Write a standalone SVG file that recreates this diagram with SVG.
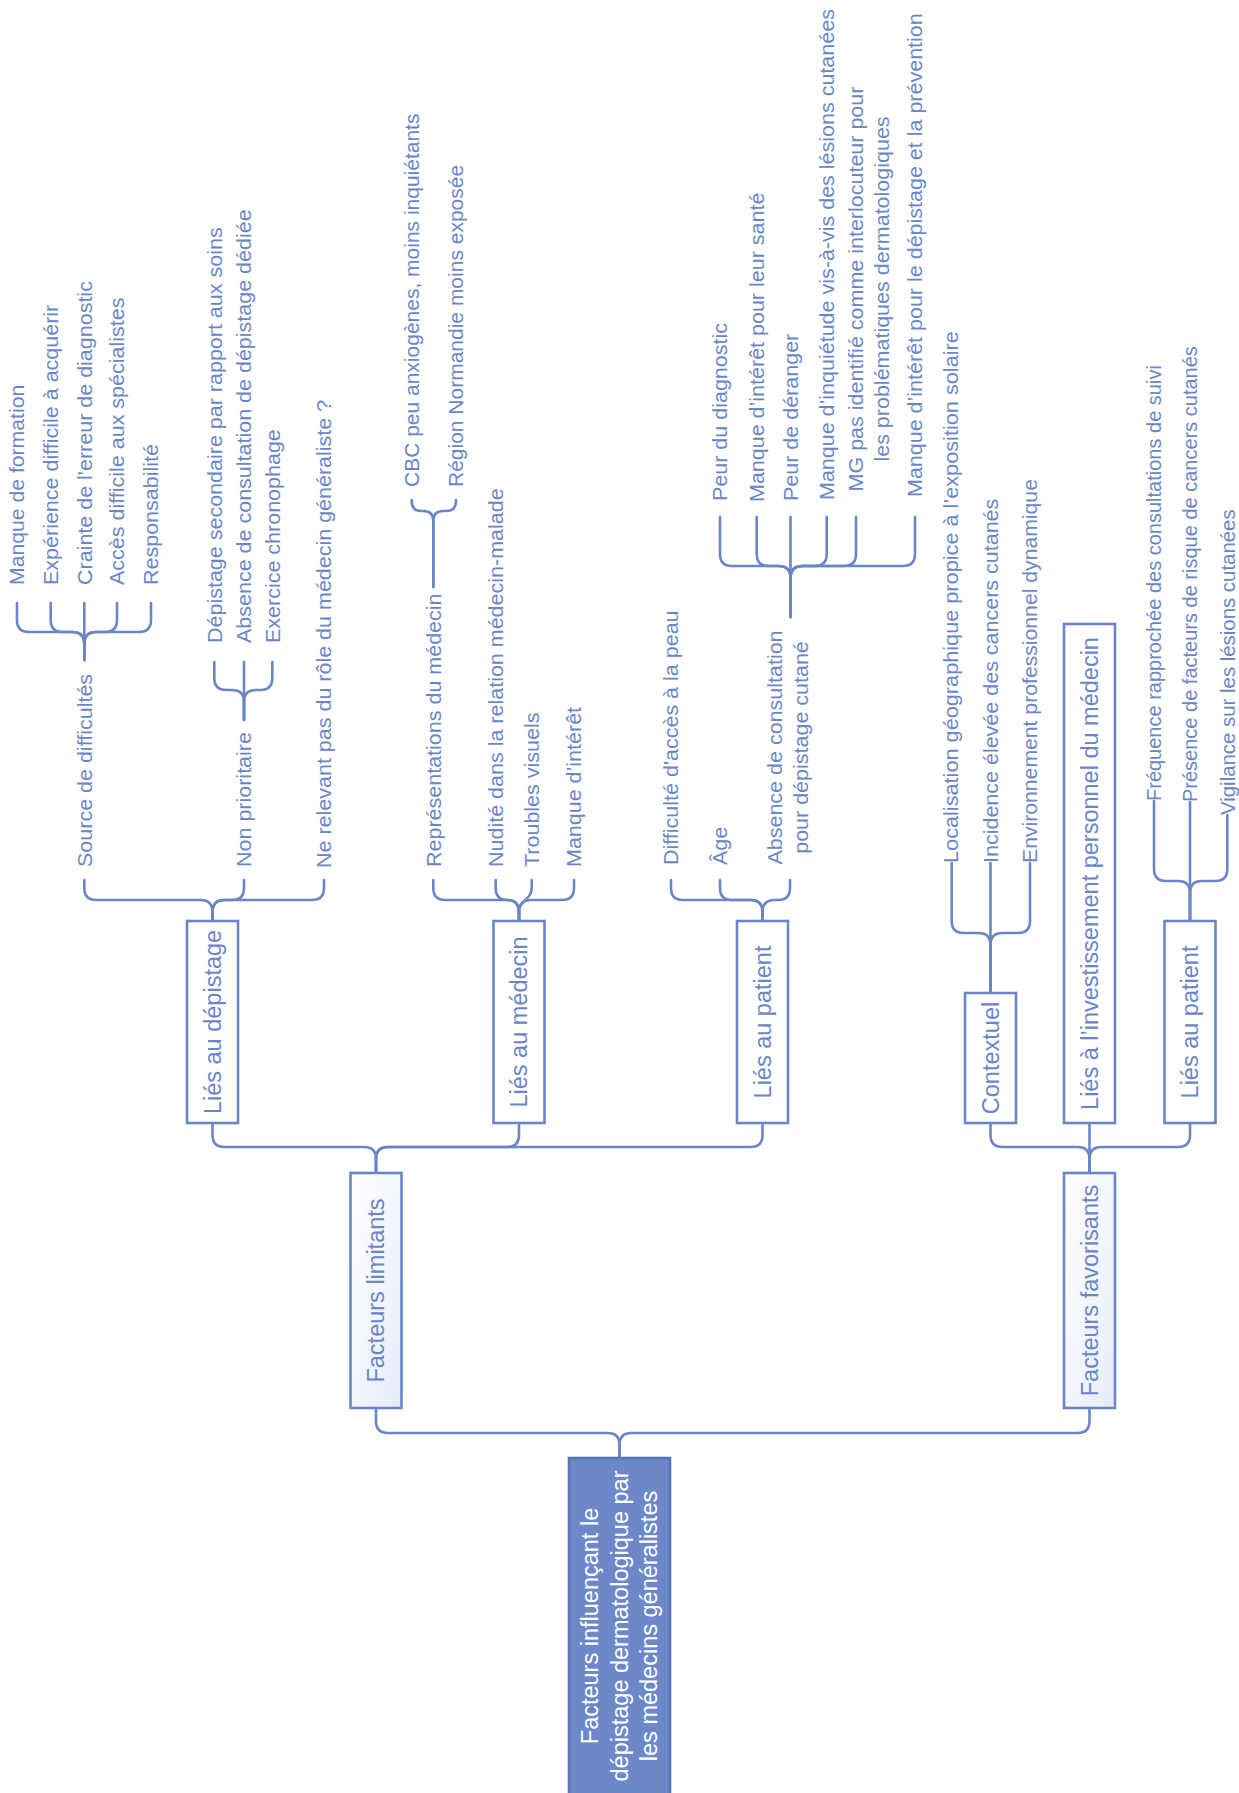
<svg xmlns="http://www.w3.org/2000/svg" width="1239" height="1793" viewBox="0 0 1239 1793">
<defs>
<linearGradient id="lg" x1="0" y1="0" x2="1" y2="1">
<stop offset="0" stop-color="#ffffff"/>
<stop offset="1" stop-color="#e6ecf8"/>
</linearGradient>
<style>
.c{fill:none;stroke:#6b86c6;stroke-width:2.6;stroke-linecap:round}
.b{fill:#ffffff;stroke:#6b86c6;stroke-width:2.6}
.f{fill:url(#lg);stroke:#6b86c6;stroke-width:2.6}
.r{fill:#6c88c8;stroke:#5a74b3;stroke-width:2.6}
.bt{font-family:"Liberation Sans",Arial,sans-serif;font-size:23.5px;fill:#6b86c6;text-anchor:middle}
.rt{font-family:"Liberation Sans",Arial,sans-serif;font-size:23.5px;fill:#ffffff;text-anchor:middle}
.l{font-family:"Liberation Sans",Arial,sans-serif;font-size:20px;fill:#6a86c6}
.m{text-anchor:middle}
</style>
</defs>
<rect width="1239" height="1793" fill="#ffffff"/>
<g id="connectors">
<path class="c" d="M376 1408 V1421 Q376 1433 388 1433 H607.5 Q619.5 1433 619.5 1445 V1458"/>
<path class="c" d="M1089.5 1408 V1421 Q1089.5 1433 1077.5 1433 H631.5 Q619.5 1433 619.5 1445 V1458"/>
<path class="c" d="M212.5 1123 V1135 Q212.5 1147 224.5 1147 H364 Q376 1147 376 1159 V1173"/>
<path class="c" d="M519 1123 V1135 Q519 1147 507 1147 H388 Q376 1147 376 1159 V1173"/>
<path class="c" d="M762.5 1123 V1135 Q762.5 1147 750.5 1147 H388 Q376 1147 376 1159 V1173"/>
<path class="c" d="M990.5 1123 V1135 Q990.5 1147 1002.5 1147 H1077.5 Q1089.5 1147 1089.5 1159 V1173"/>
<path class="c" d="M1089.5 1123 V1173"/>
<path class="c" d="M1190 1123 V1135 Q1190 1147 1178 1147 H1101.5 Q1089.5 1147 1089.5 1159 V1173"/>
<path class="c" d="M84.3 880 V888 Q84.3 900 96.3 900 H200.5 Q212.5 900 212.5 912 V921"/>
<path class="c" d="M244 880 V888 Q244 900 232 900 H224.5 Q212.5 900 212.5 912 V921"/>
<path class="c" d="M324 880 V888 Q324 900 312 900 H224.5 Q212.5 900 212.5 912 V921"/>
<path class="c" d="M433.3 880 V888 Q433.3 900 445.3 900 H507 Q519 900 519 912 V921"/>
<path class="c" d="M495.7 880 V888 Q495.7 900 507.3 900 Q519 900 519 912 V921"/>
<path class="c" d="M531.7 880 V888 C531.7 900 519 900 519 912 V921"/>
<path class="c" d="M574 880 V888 Q574 900 562 900 H531 Q519 900 519 912 V921"/>
<path class="c" d="M671 880 V888 Q671 900 683 900 H750.5 Q762.5 900 762.5 912 V921"/>
<path class="c" d="M720 880 V888 Q720 900 732 900 H750.5 Q762.5 900 762.5 912 V921"/>
<path class="c" d="M790 880 V888 Q790 900 778 900 H774.5 Q762.5 900 762.5 912 V921"/>
<path class="c" d="M951.7 863 V921 Q951.7 933 963.7 933 H978.5 Q990.5 933 990.5 945 V993"/>
<path class="c" d="M990.5 863 V993"/>
<path class="c" d="M1030 863 V921 Q1030 933 1018 933 H1002.5 Q990.5 933 990.5 945 V993"/>
<path class="c" d="M1154 801 V869 Q1154 881 1166 881 H1178 Q1190 881 1190 893 V921"/>
<path class="c" d="M1190 802 V921"/>
<path class="c" d="M1227.3 815 V869 Q1227.3 881 1215.3 881 H1202 Q1190 881 1190 893 V921"/>
<path class="c" d="M17 603 V620 Q17 632 29 632 H72.3 Q84.3 632 84.3 644 V660"/>
<path class="c" d="M50.7 603 V620 Q50.7 632 62.7 632 H72.3 Q84.3 632 84.3 644 V660"/>
<path class="c" d="M84.3 603 V660"/>
<path class="c" d="M117 603 V620 Q117 632 105 632 H96.3 Q84.3 632 84.3 644 V660"/>
<path class="c" d="M151 603 V620 Q151 632 139 632 H96.3 Q84.3 632 84.3 644 V660"/>
<path class="c" d="M214.3 662 V678 Q214.3 690 226.3 690 H232 Q244 690 244 702 V720"/>
<path class="c" d="M244 662 V720"/>
<path class="c" d="M272.3 662 V678 Q272.3 690 260.3 690 H256 Q244 690 244 702 V720"/>
<path class="c" d="M411.7 500 V501 Q411.7 511 421.7 511 H423.3 Q433.3 511 433.3 521 V587"/>
<path class="c" d="M456 500 V501 Q456 511 446 511 H443.3 Q433.3 511 433.3 521 V587"/>
<path class="c" d="M720 517 V554 Q720 566 732 566 H778.5 Q790.5 566 790.5 578 V617"/>
<path class="c" d="M756.7 517 V554 Q756.7 566 768.7 566 H778.5 Q790.5 566 790.5 578 V617"/>
<path class="c" d="M790.5 517 V617"/>
<path class="c" d="M826.7 517 V554 Q826.7 566 814.7 566 H802.5 Q790.5 566 790.5 578 V617"/>
<path class="c" d="M856 517 V554 Q856 566 844 566 H802.5 Q790.5 566 790.5 578 V617"/>
<path class="c" d="M915 517 V554 Q915 566 903 566 H802.5 Q790.5 566 790.5 578 V617"/>
</g>
<g id="root">
<rect class="r" x="569" y="1458" width="101" height="345"/>
<text class="rt" transform="translate(598 1626) rotate(-90)"><tspan x="0" y="0">Facteurs influençant le</tspan><tspan x="0" dy="29.5">dépistage dermatologique par</tspan><tspan x="0" dy="29.5">les médecins généralistes</tspan></text>
</g>
<g id="facteurs-limitants">
<rect class="f" x="350.5" y="1173" width="51" height="235"/>
<text class="bt" transform="translate(384 1290.5) rotate(-90)">Facteurs limitants</text>
</g>
<g id="facteurs-favorisants">
<rect class="f" x="1064" y="1173" width="51" height="235"/>
<text class="bt" transform="translate(1097.5 1290.5) rotate(-90)">Facteurs favorisants</text>
</g>
<g id="lies-depistage">
<rect class="b" x="187" y="921" width="51" height="202"/>
<text class="bt" transform="translate(220.5 1022) rotate(-90)">Liés au dépistage</text>
</g>
<g id="lies-medecin">
<rect class="b" x="493.5" y="921" width="51" height="202"/>
<text class="bt" transform="translate(527 1022) rotate(-90)">Liés au médecin</text>
</g>
<g id="lies-patient-limitants">
<rect class="b" x="737" y="921" width="51" height="202"/>
<text class="bt" transform="translate(770.5 1022) rotate(-90)">Liés au patient</text>
</g>
<g id="contextuel">
<rect class="b" x="965" y="993" width="51" height="130"/>
<text class="bt" transform="translate(998.5 1058) rotate(-90)">Contextuel</text>
</g>
<g id="lies-investissement">
<rect class="b" x="1064" y="624" width="51" height="499"/>
<text class="bt" transform="translate(1097.5 873.5) rotate(-90)">Liés à l’investissement personnel du médecin</text>
</g>
<g id="lies-patient-favorisants">
<rect class="b" x="1164.5" y="921" width="51" height="202"/>
<text class="bt" transform="translate(1198 1022) rotate(-90)">Liés au patient</text>
</g>
<g id="depistage-leaves">
<text class="l" transform="translate(91.5 867) rotate(-90) scale(1.075 1)">Source de difficultés</text>
<text class="l" transform="translate(251.2 867) rotate(-90) scale(1.075 1)">Non prioritaire</text>
<text class="l" transform="translate(331.2 868) rotate(-90) scale(1.075 1)">Ne relevant pas du rôle du médecin généraliste ?</text>
</g>
<g id="source-leaves">
<text class="l" transform="translate(24.2 585) rotate(-90) scale(1.06 1)">Manque de formation</text>
<text class="l" transform="translate(57.9 585) rotate(-90) scale(1.075 1)">Expérience difficile à acquérir</text>
<text class="l" transform="translate(91.5 585) rotate(-90) scale(1.075 1)">Crainte de l'erreur de diagnostic</text>
<text class="l" transform="translate(124.2 585) rotate(-90) scale(1.075 1)">Accès difficile aux spécialistes</text>
<text class="l" transform="translate(158.2 585) rotate(-90) scale(1.075 1)">Responsabilité</text>
</g>
<g id="nonprio-leaves">
<text class="l" transform="translate(221.5 643) rotate(-90) scale(1.075 1)">Dépistage secondaire par rapport aux soins</text>
<text class="l" transform="translate(251.2 643) rotate(-90) scale(1.075 1)">Absence de consultation de dépistage dédiée</text>
<text class="l" transform="translate(279.5 643) rotate(-90) scale(1.075 1)">Exercice chronophage</text>
</g>
<g id="medecin-leaves">
<text class="l" transform="translate(440.5 867) rotate(-90) scale(1.075 1)">Représentations du médecin</text>
<text class="l" transform="translate(502.9 867) rotate(-90) scale(1.075 1)">Nudité dans la relation médecin-malade</text>
<text class="l" transform="translate(538.9 867) rotate(-90) scale(1.075 1)">Troubles visuels</text>
<text class="l" transform="translate(581.2 867) rotate(-90) scale(1.075 1)">Manque d’intérêt</text>
</g>
<g id="representations-leaves">
<text class="l" transform="translate(418.9 487) rotate(-90) scale(1.05 1)">CBC peu anxiogènes, moins inquiétants</text>
<text class="l" transform="translate(463.2 487) rotate(-90) scale(1.05 1)">Région Normandie moins exposée</text>
</g>
<g id="patient-lim-leaves">
<text class="l" transform="translate(678.2 865) rotate(-90) scale(1.075 1)">Difficulté d'accès à la peau</text>
<text class="l" transform="translate(727.2 865) rotate(-90) scale(1.075 1)">Âge</text>
<text class="l m" transform="translate(781.5 747.5) rotate(-90) scale(1.075 1)"><tspan x="0" y="0">Absence de consultation</tspan><tspan x="0" dy="27">pour dépistage cutané</tspan></text>
</g>
<g id="absence-leaves">
<text class="l" transform="translate(727.2 501) rotate(-90) scale(1.075 1)">Peur du diagnostic</text>
<text class="l" transform="translate(763.9 502) rotate(-90) scale(1.075 1)">Manque d’intérêt pour leur santé</text>
<text class="l" transform="translate(797.7 501) rotate(-90) scale(1.075 1)">Peur de déranger</text>
<text class="l" transform="translate(833.9 500) rotate(-90) scale(1.075 1)">Manque d’inquiétude vis-à-vis des lésions cutanées</text>
<text class="l m" transform="translate(862.5 289) rotate(-90) scale(1.075 1)"><tspan x="0" y="0">MG pas identifié comme interlocuteur pour</tspan><tspan x="0" dy="27">les problématiques dermatologiques</tspan></text>
<text class="l" transform="translate(922 497) rotate(-90) scale(1.075 1)">Manque d’intérêt pour le dépistage et la prévention</text>
</g>
<g id="contextuel-leaves">
<text class="l" transform="translate(958.4 863) rotate(-90) scale(1.085 1)">Localisation géographique propice à l’exposition solaire</text>
<text class="l" transform="translate(997.5 863) rotate(-90) scale(1.075 1)">Incidence élevée des cancers cutanés</text>
<text class="l" transform="translate(1036.7 863) rotate(-90) scale(1.06 1)">Environnement professionnel dynamique</text>
</g>
<g id="patient-fav-leaves">
<text class="l" transform="translate(1160.5 801) rotate(-90)">Fréquence rapprochée des consultations de suivi</text>
<text class="l" transform="translate(1197 802) rotate(-90)">Présence de facteurs de risque de cancers cutanés</text>
<text class="l" transform="translate(1234.5 815) rotate(-90) scale(1.02 1)">Vigilance sur les lésions cutanées</text>
</g>
</svg>
